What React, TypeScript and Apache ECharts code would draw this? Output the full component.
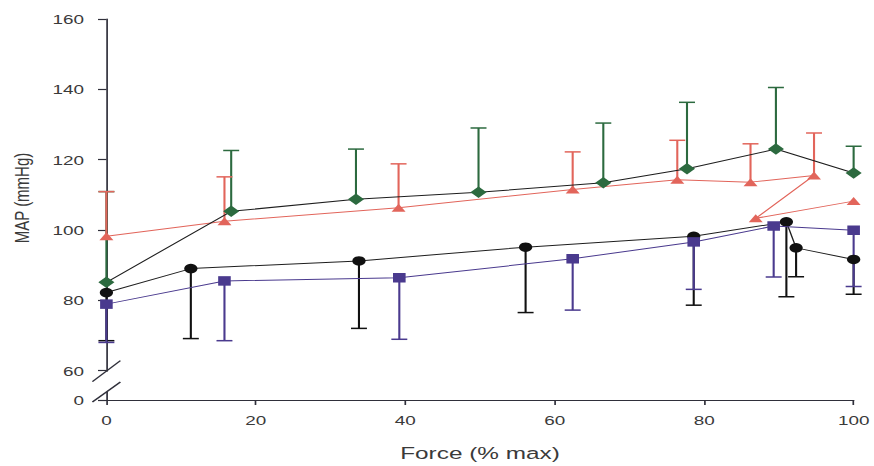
import React, { useEffect, useRef } from "react";
import * as echarts from "echarts";

// ---- data -------------------------------------------------------------
// Mean arterial pressure (mmHg) against force (% of maximum), four groups.
// Error bars: upward for the diamond and triangle groups, downward for
// the circle and square groups.

const forceDiamond = [0, 16.7, 33.4, 49.8, 66.5, 77.7, 89.6, 100];
const mapDiamond = [85.1, 105.3, 108.7, 110.7, 113.4, 117.4, 123.0, 116.2];
const errDiamond = [110.9, 122.6, 123.0, 129.0, 130.4, 136.3, 140.5, 123.8];

const forceTriangle = [0, 15.8, 39.1, 62.4, 76.4, 86.2, 94.7, 86.9, 100];
const mapTriangle = [98.2, 102.5, 106.3, 111.5, 114.3, 113.6, 115.5, 103.3, 108.2];
const errTriangle: (number | null)[] = [110.9, 115.1, 118.8, 122.2, 125.5, 124.5, 127.6, null, null];

const forceCircle = [0, 11.3, 33.8, 56.1, 78.6, 91.0, 92.3, 100];
const mapCircle = [82.2, 89.0, 91.2, 95.1, 98.2, 102.3, 94.9, 91.6];
const errCircle = [68.5, 69.1, 72.0, 76.5, 78.6, 81.0, 86.7, 81.7];

const forceSquare = [0, 15.8, 39.2, 62.4, 78.6, 89.3, 100];
const mapSquare = [78.9, 85.5, 86.4, 91.8, 96.6, 101.1, 99.9];
const errSquare = [68.0, 68.5, 68.9, 77.2, 83.1, 86.6, 83.9];

// broken y axis: the bottom of the axis stands for 0, then 60..160
const Y_BASE = 51.63;
const yTickValues = [Y_BASE, 60, 80, 100, 120, 140, 160];
const yTickLabels = ["0", "60", "80", "100", "120", "140", "160"];
const xTickValues = [0, 20, 40, 60, 80, 100];

// ---- look -------------------------------------------------------------
const PAGE_W = 874;
const PAGE_H = 466;
const STRETCH = 1.4; // the whole figure is drawn horizontally stretched
const CHART_W = PAGE_W / STRETCH;

const FONT = "'Liberation Sans', Arial, Helvetica, sans-serif";
const TEXT = "#3a3a3a";
const AXIS = "#2f2f3a";
const GREEN = "#2c6a3f";
const RED = "#e2655b";
const BLACK = "#111111";
const PURPLE = "#4a3a8e";
const CAP = 5.7;

function errorBars(xs: number[], ys: number[], ends: (number | null)[], color: string, z: number) {
  const data = xs
    .map((x, i) => [x, ys[i], ends[i]])
    .filter((d) => d[2] !== null && d[2] !== undefined);
  return {
    type: "custom",
    z,
    silent: true,
    data,
    encode: { x: 0, y: [1, 2] },
    renderItem: (_params: any, api: any) => {
      const p0 = api.coord([api.value(0), api.value(1)]);
      const p1 = api.coord([api.value(0), api.value(2)]);
      const st = { stroke: color, lineWidth: 1.5 };
      return {
        type: "group",
        children: [
          { type: "line", shape: { x1: p0[0], y1: p0[1], x2: p1[0], y2: p1[1] }, style: st },
          { type: "line", shape: { x1: p1[0] - CAP, y1: p1[1], x2: p1[0] + CAP, y2: p1[1] }, style: st },
        ],
      };
    },
  };
}

function lineSeries(
  xs: number[],
  ys: number[],
  symbol: string,
  size: number | number[],
  markColor: string,
  lineColor: string,
  z: number
) {
  return {
    type: "line",
    z,
    silent: true,
    data: xs.map((x, i) => [x, ys[i]]),
    symbol,
    symbolSize: size,
    showSymbol: true,
    itemStyle: { color: markColor, borderWidth: 0 },
    lineStyle: { color: lineColor, width: 1 },
  };
}

function yLabel(v: number): string {
  let best = 0;
  for (let i = 1; i < yTickValues.length; i++) {
    if (Math.abs(yTickValues[i] - v) < Math.abs(yTickValues[best] - v)) best = i;
  }
  return yTickLabels[best];
}

export default function App() {
  const ref = useRef<HTMLDivElement>(null);

  useEffect(() => {
    if (!ref.current) return;
    const chart = echarts.init(ref.current, null, { renderer: "svg" });

    chart.setOption({
      animation: false,
      backgroundColor: "#ffffff",
      textStyle: { fontFamily: FONT },
      grid: { left: 75.7, right: 11.5, top: 19, bottom: 65 },
      xAxis: {
        type: "value",
        min: 0,
        max: 100,
        interval: 20,
        axisLine: { show: true, lineStyle: { color: AXIS, width: 1.2 } },
        axisTick: { show: true, length: 5, customValues: xTickValues, lineStyle: { color: AXIS, width: 1.2 } },
        axisLabel: { customValues: xTickValues, margin: 13, fontSize: 13.5, color: TEXT, fontFamily: FONT },
        splitLine: { show: false },
        name: "Force (% max)",
        nameLocation: "middle",
        nameGap: 44,
        nameTextStyle: { fontSize: 17.4, color: TEXT, fontFamily: FONT },
      },
      yAxis: {
        type: "value",
        min: Y_BASE,
        max: 160,
        axisLine: { show: true, lineStyle: { color: AXIS, width: 1.2 } },
        axisTick: { show: true, length: 6, customValues: yTickValues, lineStyle: { color: AXIS, width: 1.2 } },
        axisLabel: {
          customValues: yTickValues,
          formatter: (v: number) => yLabel(v),
          margin: 16,
          fontSize: 13.5,
          color: TEXT,
          fontFamily: FONT,
        },
        splitLine: { show: false },
        name: "MAP (mmHg)",
        nameLocation: "middle",
        nameGap: 53,
        nameTextStyle: { fontSize: 15, color: TEXT, fontFamily: FONT, padding: [0, 0, 0, 23] },
      },
      series: [
        errorBars(forceDiamond, mapDiamond, errDiamond, GREEN, 1),
        errorBars(forceTriangle, mapTriangle, errTriangle, RED, 2),
        errorBars(forceCircle, mapCircle, errCircle, BLACK, 3),
        errorBars(forceSquare, mapSquare, errSquare, PURPLE, 4),
        lineSeries(forceTriangle, mapTriangle, "triangle", [10, 8], RED, RED, 10),
        lineSeries(forceDiamond, mapDiamond, "diamond", [11.5, 11.5], GREEN, "#1e1e1e", 11),
        lineSeries(forceCircle, mapCircle, "circle", 9.5, BLACK, "#1e1e1e", 12),
        lineSeries(forceSquare, mapSquare, "rect", [9, 9.5], PURPLE, PURPLE, 13),
      ],
    });

    // axis break marks between 0 and 60
    const p60 = chart.convertToPixel({ gridIndex: 0 }, [0, 60]) as number[];
    const pb = chart.convertToPixel({ gridIndex: 0 }, [0, Y_BASE]) as number[];
    const ax = p60[0];
    const y60 = p60[1];
    const yb = pb[1];
    const slash = { stroke: AXIS, lineWidth: 1.2 };
    chart.setOption({
      graphic: [
        {
          type: "rect",
          z: 100,
          silent: true,
          shape: { x: ax - 3, y: y60 + 1, width: 6, height: yb - 8 - (y60 + 1) },
          style: { fill: "#ffffff" },
        },
        {
          type: "line",
          z: 101,
          silent: true,
          shape: { x1: ax - 10, y1: y60 + 11, x2: ax + 10, y2: y60 - 10 },
          style: slash,
        },
        {
          type: "line",
          z: 101,
          silent: true,
          shape: { x1: ax - 10, y1: yb + 2, x2: ax + 10, y2: yb - 18 },
          style: slash,
        },
      ],
    });

    return () => chart.dispose();
  }, []);

  return (
    <div
      ref={ref}
      style={{
        position: "fixed",
        left: 0,
        top: 0,
        width: CHART_W,
        height: PAGE_H,
        transform: `scaleX(${STRETCH})`,
        transformOrigin: "0 0",
        background: "#ffffff",
      }}
    />
  );
}
